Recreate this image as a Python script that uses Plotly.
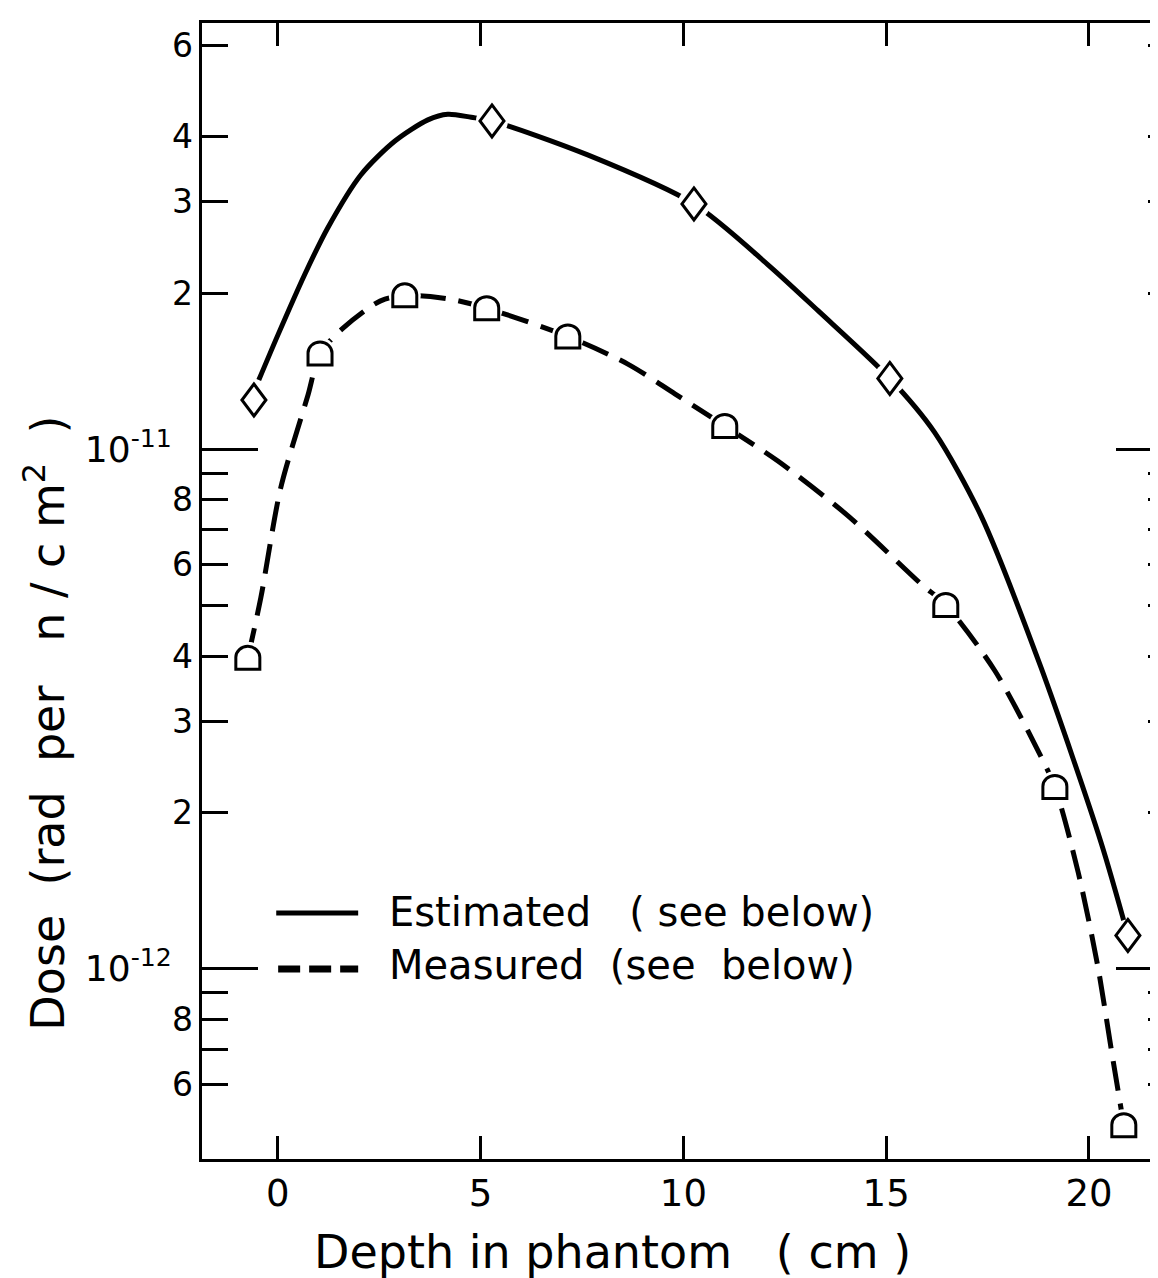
import plotly.graph_objects as go

# ---------------- data ----------------
# Estimated (diamonds)
est_depth = [-0.59, 5.28, 10.26, 15.09, 20.96]
est_dose = [1.245e-11, 4.29e-11, 2.97e-11, 1.37e-11, 1.16e-12]

# Measured (arch symbols)
meas_depth = [-0.74, 1.04, 3.13, 5.15, 7.15, 11.02, 16.47, 19.16, 20.86]
meas_dose = [3.97e-12, 1.53e-11, 1.98e-11, 1.87e-11, 1.65e-11, 1.11e-11, 5.02e-12, 2.24e-12, 5.0e-13]

# hand-drawn curves
est_curve_depth = [-0.47, 0.0, 0.66, 1.23, 2.05, 2.88, 3.70, 4.19, 4.77, 5.28, 7.64,
                   10.26, 12.08, 13.32, 15.09, 16.19, 17.34, 18.82, 20.3, 20.96]
est_curve_dose = [1.36e-11, 1.66e-11, 2.17e-11, 2.67e-11, 3.38e-11, 3.92e-11, 4.31e-11,
                  4.42e-11, 4.36e-11, 4.29e-11, 3.69e-11, 2.97e-11, 2.27e-11, 1.85e-11,
                  1.37e-11, 1.08e-11, 7.45e-12, 3.8e-12, 1.75e-12, 1.16e-12]

meas_curve_depth = [-0.74, -0.42, 0.07, 0.74, 1.04, 1.6, 2.52, 3.13, 4.2, 5.15, 7.15,
                    8.63, 9.79, 11.02, 12.33, 14.06, 15.86, 16.47, 17.68, 18.82, 19.16,
                    19.73, 20.22, 20.55, 20.86]
meas_curve_dose = [3.97e-12, 5.18e-12, 8.43e-12, 1.27e-11, 1.53e-11, 1.71e-11, 1.93e-11,
                   1.98e-11, 1.95e-11, 1.87e-11, 1.65e-11, 1.46e-11, 1.28e-11, 1.11e-11,
                   9.5e-12, 7.45e-12, 5.51e-12, 5.02e-12, 3.75e-12, 2.56e-12, 2.24e-12,
                   1.54e-12, 1.01e-12, 7.0e-13, 5.0e-13]

# axes / ticks
x_tick_vals = [0, 5, 10, 15, 20]
x_tick_text = ["0", "5", "10", "15", "20"]
y_decade_vals = [1e-12, 1e-11]
y_decade_text = ["10<sup>-12</sup>", "10<sup>-11</sup>"]
y_label_vals = [6e-13, 8e-13, 2e-12, 3e-12, 4e-12, 6e-12, 8e-12, 2e-11, 3e-11, 4e-11, 6e-11]
y_label_text = ["6", "8", "2", "3", "4", "6", "8", "2", "3", "4", "6"]
y_minor_vals = [6e-13, 7e-13, 8e-13, 9e-13, 2e-12, 3e-12, 4e-12, 5e-12, 6e-12, 7e-12,
                8e-12, 9e-12, 2e-11, 3e-11, 4e-11, 6e-11]

legend_labels = ["Estimated   ( see below)", "Measured  (see  below)"]
x_title = "Depth in phantom   ( cm )"
y_title = "Dose  (rad  per   n / c m<sup>2</sup>  )"

FONT = "DejaVu Sans"
X_RANGE = [-1.87, 21.9]
Y_RANGE = [-12.366, -10.179]

fig = go.Figure()

# curves
fig.add_trace(go.Scatter(x=est_curve_depth, y=est_curve_dose, mode="lines",
                         line=dict(color="black", width=5, shape="spline", smoothing=0.8),
                         showlegend=False, hoverinfo="skip"))
fig.add_trace(go.Scatter(x=meas_curve_depth, y=meas_curve_dose, mode="lines",
                         line=dict(color="black", width=5, shape="spline", smoothing=0.8,
                                   dash="30px,13px"),
                         showlegend=False, hoverinfo="skip"))
# white halo around data points (gaps in the drawn lines)
fig.add_trace(go.Scatter(x=est_depth, y=est_dose, mode="markers", name="Estimated",
                         marker=dict(symbol="circle", size=32, color="white"),
                         showlegend=False))
fig.add_trace(go.Scatter(x=meas_depth, y=meas_dose, mode="markers", name="Measured",
                         marker=dict(symbol="circle", size=32, color="white"),
                         showlegend=False))
# empty traces to bind the extra axes
fig.add_trace(go.Scatter(x=[], y=[], yaxis="y2", showlegend=False))
fig.add_trace(go.Scatter(x=[], y=[], yaxis="y3", showlegend=False))

# marker glyphs, anchored at the data points
diamond_path = "M0,16 L12,0 L0,-16 L-12,0 Z"
arch_path = ("M-12,-11.5 L-12,0.5 C-12,6.6 -6.6,11.5 0,11.5 "
             "C6.6,11.5 12,6.6 12,0.5 L12,-11.5 Z")
shapes = []
for xv, yv in zip(est_depth, est_dose):
    shapes.append(dict(type="path", xref="x", yref="y", xsizemode="pixel",
                       ysizemode="pixel", xanchor=xv, yanchor=yv, path=diamond_path,
                       line=dict(color="black", width=3), fillcolor="white"))
for xv, yv in zip(meas_depth, meas_dose):
    shapes.append(dict(type="path", xref="x", yref="y", xsizemode="pixel",
                       ysizemode="pixel", xanchor=xv, yanchor=yv, path=arch_path,
                       line=dict(color="black", width=3), fillcolor="white"))

# legend drawn by hand (long line samples)
shapes.append(dict(type="line", xref="paper", yref="paper", x0=0.077, x1=0.162,
                   y0=0.2165, y1=0.2165, line=dict(color="black", width=5)))
shapes.append(dict(type="line", xref="paper", yref="paper", x0=0.079, x1=0.162,
                   y0=0.1673, y1=0.1673, line=dict(color="black", width=7, dash="22px,9px")))

annotations = [
    dict(text=legend_labels[0], xref="paper", yref="paper", x=0.192, y=0.2175,
         xanchor="left", yanchor="middle", showarrow=False,
         font=dict(family=FONT, size=40, color="black")),
    dict(text=legend_labels[1], xref="paper", yref="paper", x=0.192, y=0.171,
         xanchor="left", yanchor="middle", showarrow=False,
         font=dict(family=FONT, size=40, color="black")),
    dict(text=x_title, xref="paper", yref="paper", x=0.114, y=-0.0815,
         xanchor="left", yanchor="middle", showarrow=False,
         font=dict(family=FONT, size=46, color="black")),
    dict(text=y_title, xref="paper", yref="paper", x=-0.163, y=0.384,
         xanchor="center", yanchor="middle", textangle=-90, showarrow=False,
         font=dict(family=FONT, size=46, color="black")),
]

fig.update_layout(
    width=1158, height=1278, autosize=False,
    margin=dict(l=194, r=0, t=15, b=127, pad=0),
    paper_bgcolor="white", plot_bgcolor="white",
    font=dict(family=FONT, color="black"),
    showlegend=False,
    shapes=shapes, annotations=annotations,
    xaxis=dict(range=X_RANGE, tickmode="array", tickvals=x_tick_vals, ticktext=x_tick_text,
               ticks="inside", ticklen=23, tickwidth=3, tickcolor="black",
               showline=True, linewidth=3, linecolor="black", mirror="ticks",
               showgrid=False, zeroline=False,
               tickfont=dict(family=FONT, size=37, color="black"), ticklabelstandoff=0),
    yaxis=dict(type="log", range=Y_RANGE, tickmode="array", tickvals=y_decade_vals,
               ticktext=y_decade_text, ticks="inside", ticklen=56, tickwidth=3,
               tickcolor="black", showline=True, linewidth=3, linecolor="black",
               mirror=False, showgrid=False, zeroline=False,
               tickfont=dict(family=FONT, size=36, color="black"), ticklabelstandoff=20,
               minor=dict(tickmode="array", tickvals=y_minor_vals, ticks="inside",
                          ticklen=26, tickwidth=3, tickcolor="black", showgrid=False)),
    yaxis2=dict(type="log", range=Y_RANGE, overlaying="y", side="right", anchor="x",
                tickmode="array", tickvals=y_decade_vals, ticks="inside", ticklen=50,
                tickwidth=3, tickcolor="black", showticklabels=False, showline=False,
                showgrid=False, zeroline=False,
                minor=dict(tickmode="array", tickvals=y_minor_vals, ticks="inside",
                           ticklen=18, tickwidth=3, tickcolor="black", showgrid=False)),
    yaxis3=dict(type="log", range=Y_RANGE, overlaying="y", side="left", anchor="x",
                tickmode="array", tickvals=y_label_vals, ticktext=y_label_text,
                ticks="", showline=False, showgrid=False, zeroline=False,
                tickfont=dict(family=FONT, size=33, color="black"), ticklabelstandoff=8),
)

fig.write_html("out.html")
